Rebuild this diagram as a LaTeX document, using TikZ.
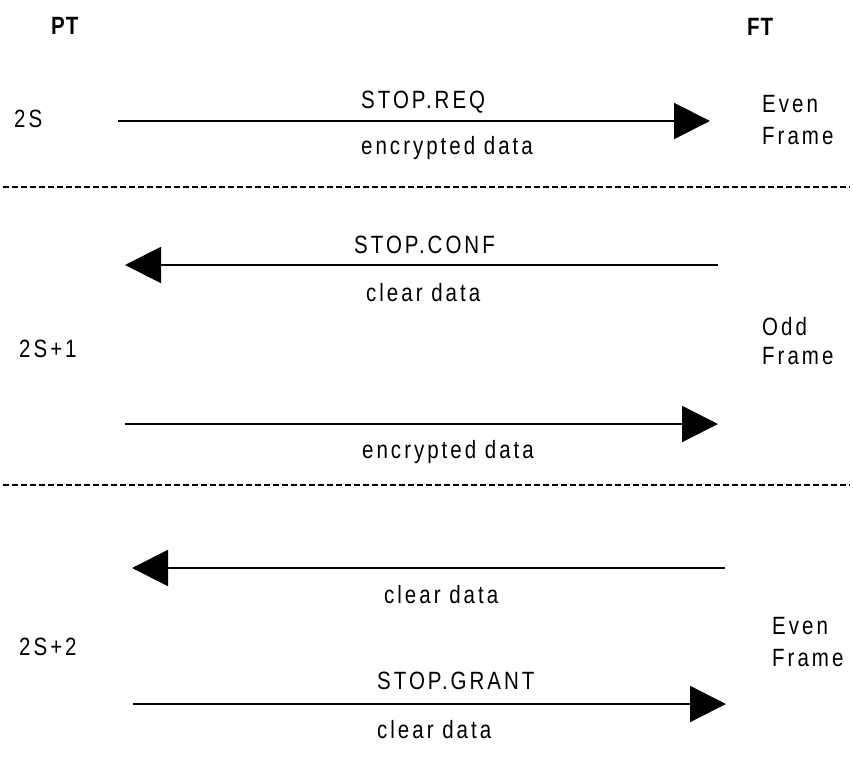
\documentclass[tikz,border=0pt]{standalone}
\usepackage{fontspec}
\setmainfont{Liberation Sans}[FakeStretch=0.82,LetterSpace=12]
\usetikzlibrary{arrows.meta}

\begin{document}
\begin{tikzpicture}[x=1pt,y=-1pt,
  lbl/.style={anchor=base west,inner sep=0pt,font=\fontsize{25}{29}\selectfont},
  party/.style={anchor=base west,inner sep=0pt,font=\fontsize{25}{29}\selectfont\bfseries\addfontfeatures{LetterSpace=4}},
  msg/.style={line width=2pt,-{Triangle[length=36pt,width=36pt]}},
  sep/.style={line width=2pt,dash pattern=on 6pt off 3pt}]
\useasboundingbox (0,0) rectangle (853,778);

% parties
\node[party] (pt) at (51,35) {PT};
\node[party] (ft) at (747,36) {FT};

% frame numbers
\node[lbl] (s0) at (14,128) {2S};
\node[lbl] (s1) at (19,357) {2S+1};
\node[lbl] (s2) at (19,655) {2S+2};

% frame types
\node[lbl] (even-a) at (762,113) {Even};
\node[lbl] (frame-a) at (762,145) {Frame};
\node[lbl] (odd) at (762,335) {Odd};
\node[lbl] (frame-b) at (762,364) {Frame};
\node[lbl] (even-c) at (772,634) {Even};
\node[lbl] (frame-c) at (772,666) {Frame};

% frame boundaries
\coordinate (l1) at (3,187);   \coordinate (r1) at (850,187);
\coordinate (l2) at (3,485);   \coordinate (r2) at (850,485);
\draw[sep] (l1) -- (r1);
\draw[sep] (l2) -- (r2);

% messages
\coordinate (a1) at (118,121); \coordinate (b1) at (710,121);
\coordinate (a2) at (718,265); \coordinate (b2) at (125,265);
\coordinate (a3) at (125,424); \coordinate (b3) at (718,424);
\coordinate (a4) at (725,568); \coordinate (b4) at (132,568);
\coordinate (a5) at (133,704); \coordinate (b5) at (726,704);
\draw[msg] (a1) -- (b1);
\draw[msg] (a2) -- (b2);
\draw[msg] (a3) -- (b3);
\draw[msg] (a4) -- (b4);
\draw[msg] (a5) -- (b5);

\node[lbl] (req) at (361,109) {STOP.REQ};
\node[lbl] (req-d) at (361,155) {encrypted data};
\node[lbl] (conf) at (354,253) {STOP.CONF};
\node[lbl] (conf-d) at (366,301) {clear data};
\node[lbl] (up-d) at (362,458) {encrypted data};
\node[lbl] (down-d) at (384,603) {clear data};
\node[lbl] (grant) at (377,689) {STOP.GRANT};
\node[lbl] (grant-d) at (377,738) {clear data};
\end{tikzpicture}
\end{document}
